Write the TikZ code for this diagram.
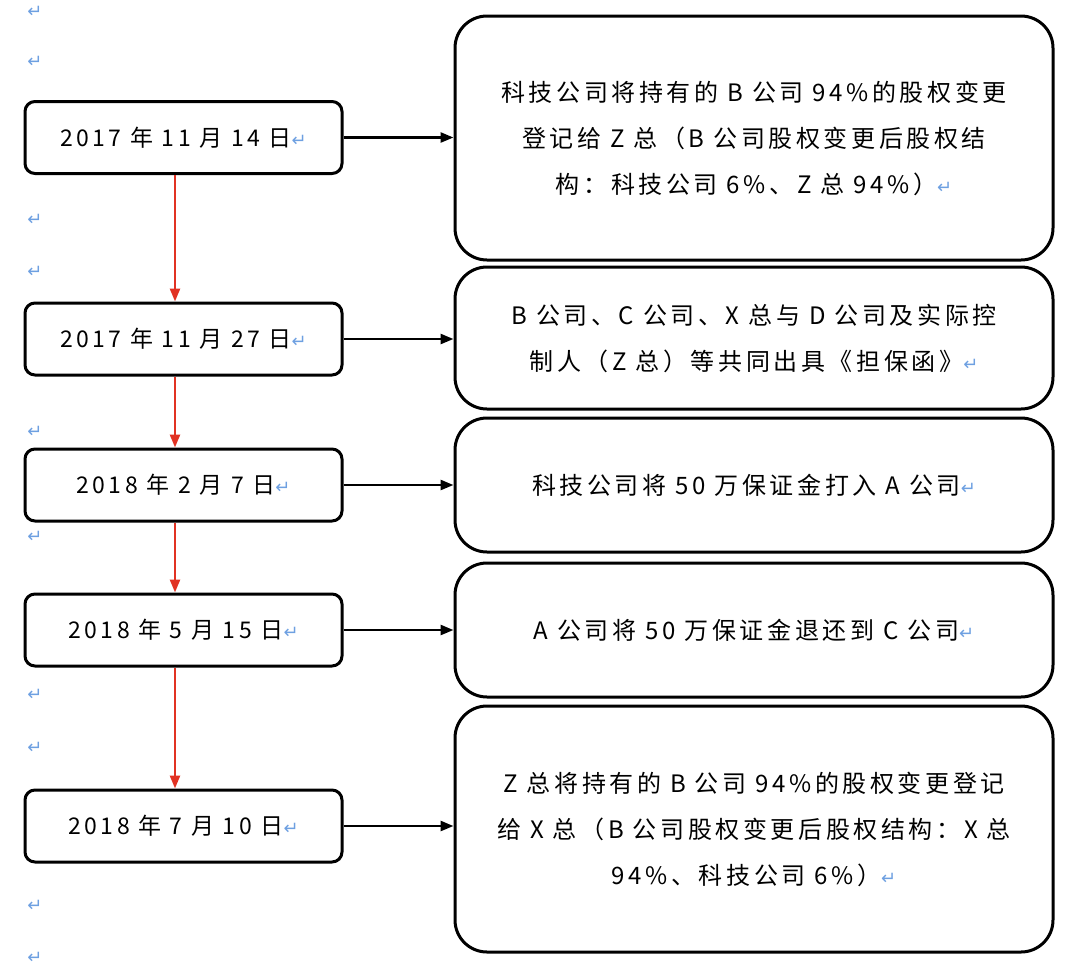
\documentclass[tikz,border=0pt]{standalone}
\usepackage{fontspec}
\setmainfont[LetterSpace=15]{Noto Sans CJK SC}
\newfontfamily\djv{DejaVu Sans}
\usetikzlibrary{arrows.meta}
\definecolor{pm}{RGB}{110,160,225}
\definecolor{arrred}{RGB}{225,50,35}
\newcommand{\pmk}{{\djv\color{pm}\fontsize{18}{18}\selectfont ↵}}
\tikzset{
 lbox/.style={draw,line width=3pt,rounded corners=10pt,minimum width=317pt,minimum height=72pt,font=\fontsize{23}{26}\selectfont},
 rbox/.style={draw,line width=3pt,rounded corners=32pt,minimum width=598pt,font=\fontsize{24}{46}\selectfont,align=center},
 blk/.style={-{Triangle[length=13pt,width=10pt]},line width=2.6pt},
 red/.style={-{Triangle[length=13pt,width=10pt]},line width=2.6pt,draw=arrred,fill=arrred},
 pmn/.style={inner sep=0pt}
}
\begin{document}
\begin{tikzpicture}[x=1pt,y=-1pt]
\useasboundingbox (0,0) rectangle (1080,975);
\node[lbox] (l1) at (183.5,137.5) {2017 年 11 月 14 日\pmk};
\node[lbox] (l2) at (183.5,339) {2017 年 11 月 27 日\pmk};
\node[lbox] (l3) at (183.5,485) {2018 年 2 月 7 日\pmk};
\node[lbox] (l4) at (183.5,630) {2018 年 5 月 15 日\pmk};
\node[lbox] (l5) at (183.5,826) {2018 年 7 月 10 日\pmk};
\node[rbox,minimum height=244pt] (r1) at (754,138) {科技公司将持有的 B 公司 94\%的股权变更\\登记给 Z 总（B 公司股权变更后股权结\\构：科技公司 6\%、Z 总 94\%）\pmk};
\node[rbox,minimum height=142pt] (r2) at (754,338) {B 公司、C 公司、X 总与 D 公司及实际控\\制人（Z 总）等共同出具《担保函》\pmk};
\node[rbox,minimum height=134pt] (r3) at (754,485) {科技公司将 50 万保证金打入 A 公司\pmk};
\node[rbox,minimum height=134pt] (r4) at (754,630) {A 公司将 50 万保证金退还到 C 公司\pmk};
\node[rbox,minimum height=246pt] (r5) at (754,829) {Z 总将持有的 B 公司 94\%的股权变更登记\\给 X 总（B 公司股权变更后股权结构：X 总\\94\%、科技公司 6\%）\pmk};
\foreach \i in {1,...,5}{\draw[blk] (l\i.east) -- (r\i.west |- l\i.east);}
\foreach \a/\b in {1/2,2/3,3/4,4/5}{\draw[red] (l\a.south -| 175,0) -- (l\b.north -| 175,0);}
\foreach \y [count=\k] in {12,62,220,272,432,537,695,748,906,958}{\node[pmn] (m\k) at (35,\y) {\pmk};}
\end{tikzpicture}
\end{document}
